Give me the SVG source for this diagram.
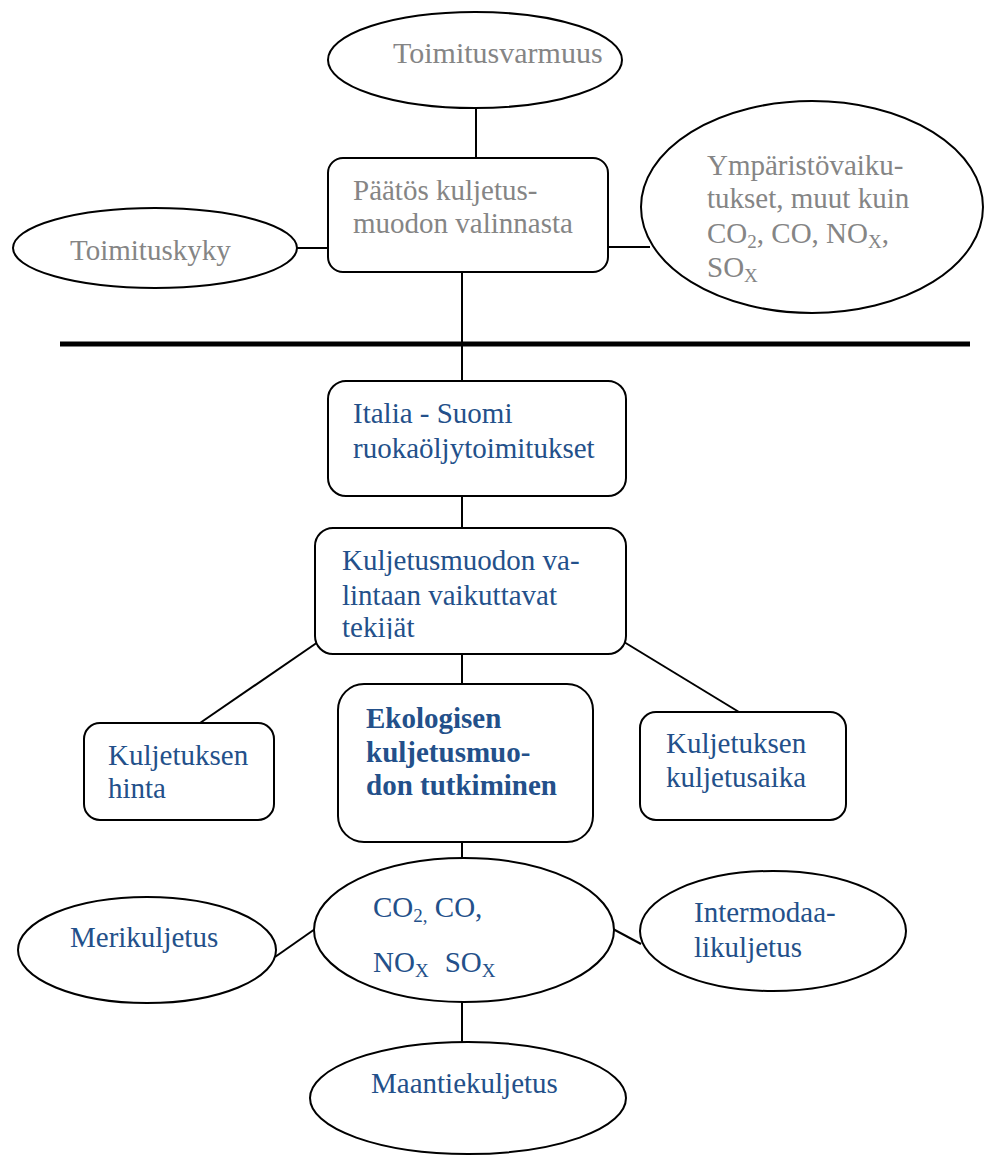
<svg xmlns="http://www.w3.org/2000/svg" width="985" height="1156" viewBox="0 0 985 1156">
<style>
.shape{fill:#fff;stroke:#000;stroke-width:2}
.ln{stroke:#000;stroke-width:2;fill:none}
.t{font-family:"Liberation Serif","Times New Roman",serif;font-size:29px}
.g{fill:#858585}
.b{fill:#23508a}
.bold{font-weight:bold}
.sub{font-size:19px}
</style>
<defs>
<clipPath id="clipTek"><rect x="316" y="529" width="310" height="110"/></clipPath>
</defs>
<g id="connectors">
<line class="ln" x1="476" y1="108" x2="476" y2="158"/>
<line class="ln" x1="297" y1="248" x2="328" y2="248"/>
<line class="ln" x1="608" y1="247" x2="650" y2="247"/>
<line class="ln" x1="462" y1="272" x2="462" y2="381"/>
<line x1="60" y1="344" x2="970" y2="344" stroke="#000" stroke-width="5"/>
<line class="ln" x1="462" y1="496" x2="462" y2="528"/>
<line class="ln" x1="318" y1="642" x2="200" y2="723"/>
<line class="ln" x1="624" y1="642" x2="739" y2="712"/>
<line class="ln" x1="462" y1="654" x2="462" y2="684"/>
<line class="ln" x1="462" y1="842" x2="462" y2="859"/>
<line class="ln" x1="275" y1="957" x2="315" y2="929"/>
<line class="ln" x1="613" y1="929" x2="641" y2="944"/>
<line class="ln" x1="462" y1="1002" x2="462" y2="1042"/>
</g>
<g id="toimitusvarmuus">
<ellipse class="shape" cx="475" cy="60" rx="147" ry="48"/>
<text class="t g" x="393" y="63" style="font-size:30px">Toimitusvarmuus</text>
</g>
<g id="paatos">
<rect class="shape" x="328" y="158" width="280" height="114" rx="15"/>
<text class="t g" x="353" y="200">Päätös kuljetus-</text>
<text class="t g" x="353" y="233">muodon valinnasta</text>
</g>
<g id="toimituskyky">
<ellipse class="shape" cx="155" cy="248" rx="142" ry="40"/>
<text class="t g" x="70" y="260">Toimituskyky</text>
</g>
<g id="ymparisto">
<ellipse class="shape" cx="812" cy="207" rx="171" ry="106"/>
<text class="t g" x="707" y="175">Ympäristövaiku-</text>
<text class="t g" x="707" y="208">tukset, muut kuin</text>
<text class="t g" x="707" y="243">CO<tspan class="sub" dy="5">2</tspan><tspan dy="-5">, CO, NO</tspan><tspan class="sub" dy="5">X</tspan><tspan dy="-5">,</tspan></text>
<text class="t g" x="707" y="277">SO<tspan class="sub" dy="5">X</tspan></text>
</g>
<g id="italia">
<rect class="shape" x="328" y="381" width="298" height="115" rx="18"/>
<text class="t b" x="353" y="423">Italia - Suomi</text>
<text class="t b" x="353" y="458">ruokaöljytoimitukset</text>
</g>
<g id="kuljetusmuodon">
<rect class="shape" x="315" y="528" width="311" height="126" rx="18"/>
<text class="t b" x="342" y="570">Kuljetusmuodon va-</text>
<text class="t b" x="342" y="605">lintaan vaikuttavat</text>
<text class="t b" x="342" y="637" clip-path="url(#clipTek)">tekijät</text>
</g>
<g id="hinta">
<rect class="shape" x="84" y="723" width="190" height="97" rx="16"/>
<text class="t b" x="108" y="765">Kuljetuksen</text>
<text class="t b" x="108" y="798">hinta</text>
</g>
<g id="ekologisen">
<rect class="shape" x="338" y="684" width="255" height="158" rx="26"/>
<text class="t b bold" x="366" y="728">Ekologisen</text>
<text class="t b bold" x="366" y="762">kuljetusmuo-</text>
<text class="t b bold" x="366" y="795">don tutkiminen</text>
</g>
<g id="kuljetusaika">
<rect class="shape" x="640" y="712" width="206" height="108" rx="16"/>
<text class="t b" x="666" y="753">Kuljetuksen</text>
<text class="t b" x="666" y="787">kuljetusaika</text>
</g>
<g id="paastot">
<ellipse class="shape" cx="464" cy="930" rx="150" ry="72"/>
<text class="t b" x="373" y="917">CO<tspan class="sub" dy="5">2,</tspan><tspan dy="-5"> CO,</tspan></text>
<text class="t b" x="373" y="972">NO<tspan class="sub" dy="5">X</tspan><tspan dy="-5" dx="16">SO</tspan><tspan class="sub" dy="5">X</tspan></text>
</g>
<g id="merikuljetus">
<ellipse class="shape" cx="147" cy="950" rx="129" ry="53"/>
<text class="t b" x="70" y="947">Merikuljetus</text>
</g>
<g id="intermodaali">
<ellipse class="shape" cx="773" cy="931" rx="133" ry="60"/>
<text class="t b" x="694" y="922">Intermodaa-</text>
<text class="t b" x="694" y="957">likuljetus</text>
</g>
<g id="maantiekuljetus">
<ellipse class="shape" cx="468" cy="1098" rx="158" ry="56"/>
<text class="t b" x="371" y="1093">Maantiekuljetus</text>
</g>
</svg>
